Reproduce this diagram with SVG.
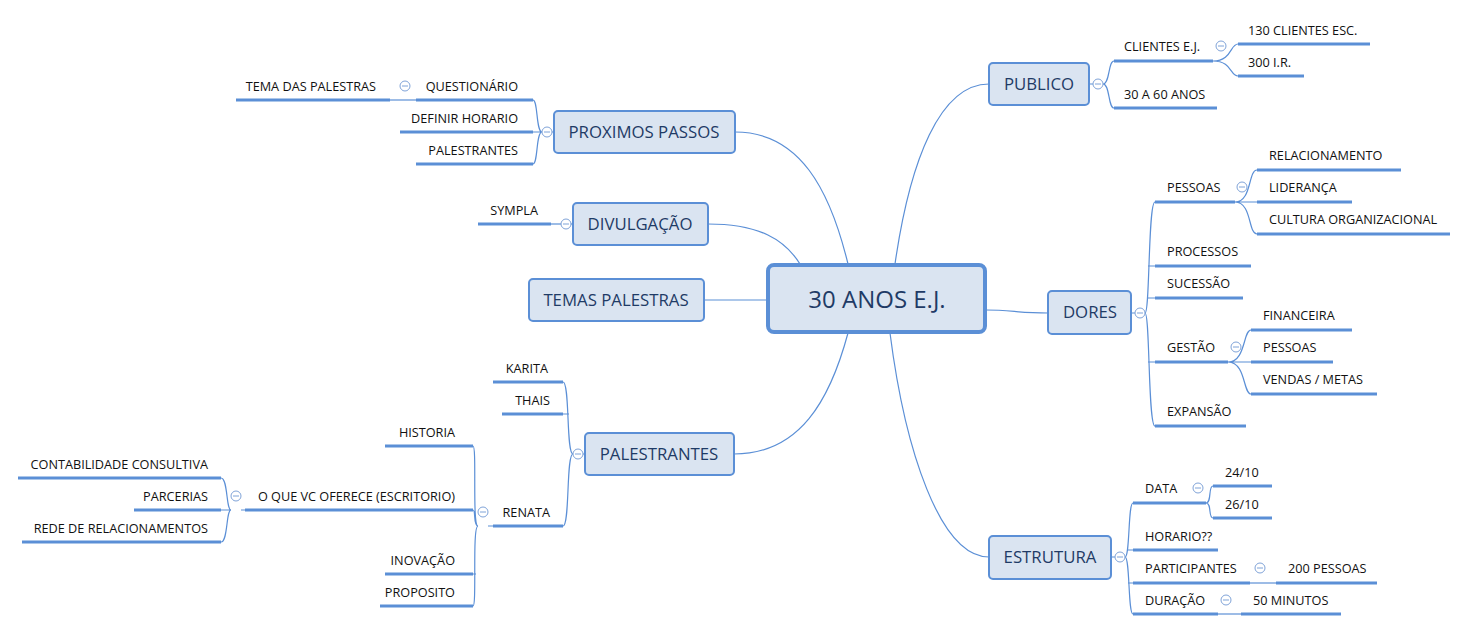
<svg xmlns="http://www.w3.org/2000/svg" width="1469" height="631" viewBox="0 0 1469 631">
<style>
.box{fill:#dae4f1;stroke:#5b8fd6;stroke-width:2}
.bt{font-family:"Open Sans",sans-serif;font-size:16.8px;fill:#1f3b66;text-anchor:middle}
.big{font-size:24px}
.lt{font-family:"Open Sans",sans-serif;font-size:12.7px;fill:#111}
.r{text-anchor:end}
.ul{stroke:#5b8fd6;stroke-width:3}
.c{fill:none;stroke:#5b8fd6;stroke-width:1.2}
.col{fill:#fff;stroke:#7fa3d8;stroke-width:1}
.cm{stroke:#7fa3d8;stroke-width:1}
</style>
<rect width="1469" height="631" fill="#fff"/>
<g id="connectors">
<path class="c" d="M895,264 C910,160 940,84 989,84"/>
<path class="c" d="M986,310 C1010,310 1020,313 1048,313"/>
<path class="c" d="M890,333 C905,450 940,557 989,557"/>
<path class="c" d="M848,264 C830,190 800,132 735,132"/>
<path class="c" d="M800,264 C785,240 760,224 708,224"/>
<path class="c" d="M704,300 L767,300"/>
<path class="c" d="M848,333 C830,400 800,454 734,454"/>
<path class="c" d="M1089,84 L1093,84 M1103,84 C1110,84 1108,61 1114,61 M1103,84 C1110,84 1108,108 1114,108"/>
<path class="c" d="M1213,61 L1216,61 M1213,61 C1232,61 1230,44 1238,44 M1213,61 C1232,61 1230,76 1238,76"/>
<path class="c" d="M1131,313 L1135,313 M1145,313 C1150,313 1148,202 1155,202 M1145,313 C1150,313 1148,426 1155,426 M1148,266 L1155,266 M1148,298 L1155,298 M1148,362 L1155,362"/>
<path class="c" d="M1235,202 C1252,202 1248,170 1257,170 M1235,202 L1257,202 M1235,202 C1252,202 1248,234 1257,234"/>
<path class="c" d="M1228,362 C1246,362 1243,330 1251,330 M1228,362 L1251,362 M1228,362 C1246,362 1243,394 1251,394"/>
<path class="c" d="M1111,557 L1115,557 M1125,557 C1130,557 1128,503 1133,503 M1125,557 C1130,557 1128,614 1133,614 M1128,550 L1133,550 M1128,583 L1133,583"/>
<path class="c" d="M1206,503 C1212,503 1208,486 1213,486 M1206,503 C1212,503 1208,518 1213,518"/>
<path class="c" d="M1250,583 L1276,583"/>
<path class="c" d="M1218,614 L1241,614"/>
<path class="c" d="M554,132 L552,132 M542,132 C536,132 538,100 533,100 M542,132 L533,132 M542,132 C536,132 538,164 533,164"/>
<path class="c" d="M416,100 L390,100"/>
<path class="c" d="M573,224 L551,224"/>
<path class="c" d="M585,454 L583,454 M573,454 C566,454 570,382 563,382 M573,454 C566,454 570,526 563,526 M569,414 L563,414"/>
<path class="c" d="M493,526 L488,526 M478,526 C472,526 477,446 473,446 M478,526 C472,526 477,606 473,606 M478,526 C473,526 476,510 473,510 M476,574 L473,574"/>
<path class="c" d="M245,510 L241,510 M231,510 C226,510 228,478 221,478 M231,510 L221,510 M231,510 C226,510 228,542 221,542"/>
</g>
<g id="center"><rect x="768" y="265" width="217" height="67" rx="6" fill="#dae4f1" stroke="#5b8fd6" stroke-width="4"/><text class="bt big" x="877" y="308">30 ANOS E.J.</text></g>
<g id="publico"><rect class="box" x="989" y="63" width="100" height="42" rx="4"/><text class="bt" x="1039" y="90">PUBLICO</text>
<circle class="col" cx="1098" cy="84" r="5"/><line class="cm" x1="1095" y1="84" x2="1101" y2="84"/>
<text class="lt" x="1124" y="51">CLIENTES E.J.</text><line class="ul" x1="1114" y1="61" x2="1213" y2="61"/>
<circle class="col" cx="1221" cy="46" r="5"/><line class="cm" x1="1218" y1="46" x2="1224" y2="46"/>
<text class="lt" x="1248" y="35">130 CLIENTES ESC.</text><line class="ul" x1="1238" y1="44" x2="1370" y2="44"/>
<text class="lt" x="1248" y="67">300 I.R.</text><line class="ul" x1="1238" y1="76" x2="1304" y2="76"/>
<text class="lt" x="1124" y="99">30 A 60 ANOS</text><line class="ul" x1="1114" y1="108" x2="1217" y2="108"/></g>
<g id="dores"><rect class="box" x="1048" y="291" width="83" height="43" rx="4"/><text class="bt" x="1090" y="318">DORES</text>
<circle class="col" cx="1140" cy="313" r="5"/><line class="cm" x1="1137" y1="313" x2="1143" y2="313"/>
<text class="lt" x="1167" y="192">PESSOAS</text><line class="ul" x1="1155" y1="202" x2="1235" y2="202"/>
<circle class="col" cx="1242" cy="187" r="5"/><line class="cm" x1="1239" y1="187" x2="1245" y2="187"/>
<text class="lt" x="1269" y="160">RELACIONAMENTO</text><line class="ul" x1="1257" y1="170" x2="1401" y2="170"/>
<text class="lt" x="1269" y="192">LIDERANÇA</text><line class="ul" x1="1257" y1="202" x2="1352" y2="202"/>
<text class="lt" x="1269" y="224">CULTURA ORGANIZACIONAL</text><line class="ul" x1="1257" y1="234" x2="1450" y2="234"/>
<text class="lt" x="1167" y="256">PROCESSOS</text><line class="ul" x1="1155" y1="266" x2="1251" y2="266"/>
<text class="lt" x="1167" y="288">SUCESSÃO</text><line class="ul" x1="1155" y1="298" x2="1243" y2="298"/>
<text class="lt" x="1167" y="352">GESTÃO</text><line class="ul" x1="1155" y1="362" x2="1228" y2="362"/>
<circle class="col" cx="1236" cy="347" r="5"/><line class="cm" x1="1233" y1="347" x2="1239" y2="347"/>
<text class="lt" x="1263" y="320">FINANCEIRA</text><line class="ul" x1="1251" y1="330" x2="1352" y2="330"/>
<text class="lt" x="1263" y="352">PESSOAS</text><line class="ul" x1="1251" y1="362" x2="1333" y2="362"/>
<text class="lt" x="1263" y="384">VENDAS / METAS</text><line class="ul" x1="1251" y1="394" x2="1377" y2="394"/>
<text class="lt" x="1167" y="416">EXPANSÃO</text><line class="ul" x1="1155" y1="426" x2="1246" y2="426"/></g>
<g id="estrutura"><rect class="box" x="989" y="536" width="122" height="43" rx="4"/><text class="bt" x="1050" y="563">ESTRUTURA</text>
<circle class="col" cx="1120" cy="557" r="5"/><line class="cm" x1="1117" y1="557" x2="1123" y2="557"/>
<text class="lt" x="1145" y="493">DATA</text><line class="ul" x1="1133" y1="503" x2="1206" y2="503"/>
<circle class="col" cx="1198" cy="488" r="5"/><line class="cm" x1="1195" y1="488" x2="1201" y2="488"/>
<text class="lt" x="1225" y="477">24/10</text><line class="ul" x1="1213" y1="486" x2="1272" y2="486"/>
<text class="lt" x="1225" y="509">26/10</text><line class="ul" x1="1213" y1="518" x2="1272" y2="518"/>
<text class="lt" x="1145" y="541">HORARIO??</text><line class="ul" x1="1133" y1="550" x2="1218" y2="550"/>
<text class="lt" x="1145" y="573">PARTICIPANTES</text><line class="ul" x1="1133" y1="583" x2="1250" y2="583"/>
<circle class="col" cx="1260" cy="568" r="5"/><line class="cm" x1="1257" y1="568" x2="1263" y2="568"/>
<text class="lt" x="1288" y="573">200 PESSOAS</text><line class="ul" x1="1276" y1="583" x2="1377" y2="583"/>
<text class="lt" x="1145" y="605">DURAÇÃO</text><line class="ul" x1="1133" y1="614" x2="1218" y2="614"/>
<circle class="col" cx="1226" cy="600" r="5"/><line class="cm" x1="1223" y1="600" x2="1229" y2="600"/>
<text class="lt" x="1253" y="605">50 MINUTOS</text><line class="ul" x1="1241" y1="614" x2="1341" y2="614"/></g>
<g id="proximos"><rect class="box" x="554" y="111" width="181" height="42" rx="4"/><text class="bt" x="644" y="138">PROXIMOS PASSOS</text>
<circle class="col" cx="547" cy="132" r="5"/><line class="cm" x1="544" y1="132" x2="550" y2="132"/>
<text class="lt r" x="518" y="91">QUESTIONÁRIO</text><line class="ul" x1="416" y1="100" x2="533" y2="100"/>
<circle class="col" cx="405" cy="86" r="5"/><line class="cm" x1="402" y1="86" x2="408" y2="86"/>
<text class="lt r" x="376" y="91">TEMA DAS PALESTRAS</text><line class="ul" x1="236" y1="100" x2="390" y2="100"/>
<text class="lt r" x="518" y="123">DEFINIR HORARIO</text><line class="ul" x1="400" y1="132" x2="533" y2="132"/>
<text class="lt r" x="518" y="155">PALESTRANTES</text><line class="ul" x1="416" y1="164" x2="533" y2="164"/></g>
<g id="divulgacao"><rect class="box" x="573" y="203" width="135" height="42" rx="4"/><text class="bt" x="640" y="230">DIVULGAÇÃO</text>
<circle class="col" cx="566" cy="224" r="5"/><line class="cm" x1="563" y1="224" x2="569" y2="224"/>
<text class="lt r" x="538" y="215">SYMPLA</text><line class="ul" x1="478" y1="224" x2="551" y2="224"/></g>
<g id="temas"><rect class="box" x="529" y="279" width="175" height="42" rx="4"/><text class="bt" x="616" y="306">TEMAS PALESTRAS</text></g>
<g id="palestrantes"><rect class="box" x="585" y="433" width="149" height="42" rx="4"/><text class="bt" x="659" y="460">PALESTRANTES</text>
<circle class="col" cx="578" cy="454" r="5"/><line class="cm" x1="575" y1="454" x2="581" y2="454"/>
<text class="lt r" x="548" y="373">KARITA</text><line class="ul" x1="493" y1="382" x2="563" y2="382"/>
<text class="lt r" x="550" y="405">THAIS</text><line class="ul" x1="502" y1="414" x2="563" y2="414"/>
<text class="lt r" x="550" y="517">RENATA</text><line class="ul" x1="493" y1="526" x2="563" y2="526"/>
<circle class="col" cx="483" cy="512" r="5"/><line class="cm" x1="480" y1="512" x2="486" y2="512"/>
<text class="lt r" x="455" y="437">HISTORIA</text><line class="ul" x1="385" y1="446" x2="473" y2="446"/>
<text class="lt r" x="455" y="501">O QUE VC OFERECE (ESCRITORIO)</text><line class="ul" x1="245" y1="510" x2="473" y2="510"/>
<circle class="col" cx="236" cy="496" r="5"/><line class="cm" x1="233" y1="496" x2="239" y2="496"/>
<text class="lt r" x="208" y="469">CONTABILIDADE CONSULTIVA</text><line class="ul" x1="18" y1="478" x2="221" y2="478"/>
<text class="lt r" x="208" y="501">PARCERIAS</text><line class="ul" x1="134" y1="510" x2="221" y2="510"/>
<text class="lt r" x="208" y="533">REDE DE RELACIONAMENTOS</text><line class="ul" x1="22" y1="542" x2="221" y2="542"/>
<text class="lt r" x="455" y="565">INOVAÇÃO</text><line class="ul" x1="385" y1="574" x2="473" y2="574"/>
<text class="lt r" x="455" y="597">PROPOSITO</text><line class="ul" x1="380" y1="606" x2="473" y2="606"/></g>
</svg>
